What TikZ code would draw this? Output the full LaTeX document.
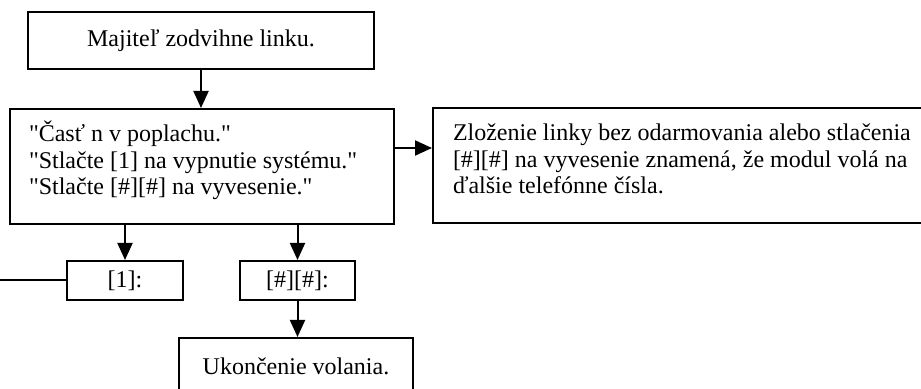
\documentclass[tikz,border=0pt]{standalone}
\usepackage{fontspec}
\setmainfont{Liberation Serif}
\usetikzlibrary{arrows.meta}

\begin{document}
\begin{tikzpicture}[x=0.5pt, y=-0.5pt, >={Triangle[length=8.5pt, width=7.5pt]},
    every node/.style={font=\fontsize{12}{13.2}\selectfont},
    box/.style={draw, line width=1pt, inner sep=0pt},
    flow/.style={->, line width=1pt}]

    \useasboundingbox (0, 0) rectangle (921, 389);

    % bloky
    \node[box, minimum width=173pt, minimum height=28.5pt] (owner) at (201, 40.5) {Majiteľ zodvihne linku.};
    \node[box, anchor=north west, inner xsep=9.5pt] (alarm) at (9, 108)
        {\parbox[c][57.5pt][t]{173pt}{\rule{0pt}{16.5pt}\textquotedbl Časť n v poplachu.\textquotedbl\\
         \textquotedbl Stlačte [1] na vypnutie systému.\textquotedbl\\
         \textquotedbl Stlačte [\#][\#] na vyvesenie.\textquotedbl}};
    \node[box, anchor=north west, inner xsep=10pt] (info) at (432, 107)
        {\parbox[c][57.5pt][t]{229pt}{\raggedright\rule{0pt}{16.5pt}Zloženie linky bez odarmovania alebo stlačenia\\
         {}[\#][\#] na vyvesenie znamená, že modul volá na\\
         ďalšie telefónne čísla.}};

    % voľby
    \node[box, minimum width=58pt, minimum height=19.5pt] (keyone) at (125, 280.5) {[1]:};
    \node[box, minimum width=57.5pt, minimum height=19.5pt] (keyhash) at (297.5, 280.5) {[\#][\#]:};
    \node[box, minimum width=117pt, minimum height=28.5pt] (hangup) at (296, 366.5) {Ukončenie volania.};
    \coordinate (offpage) at (0, 280.5);

    % šípky
    \draw[flow] (owner.south) -- (owner.south |- alarm.north);
    \draw[flow] ([yshift=9.25pt]alarm.east) -- ([yshift=9.25pt]alarm.east -| info.west);
    \draw[flow] (alarm.south -| keyone.north) -- (keyone.north);
    \draw[flow] (alarm.south -| keyhash.north) -- (keyhash.north);
    \draw[flow] (keyhash.south) -- (keyhash.south |- hangup.north);
    \draw[line width=1pt] (keyone.west) -- (offpage);

\end{tikzpicture}
\end{document}
